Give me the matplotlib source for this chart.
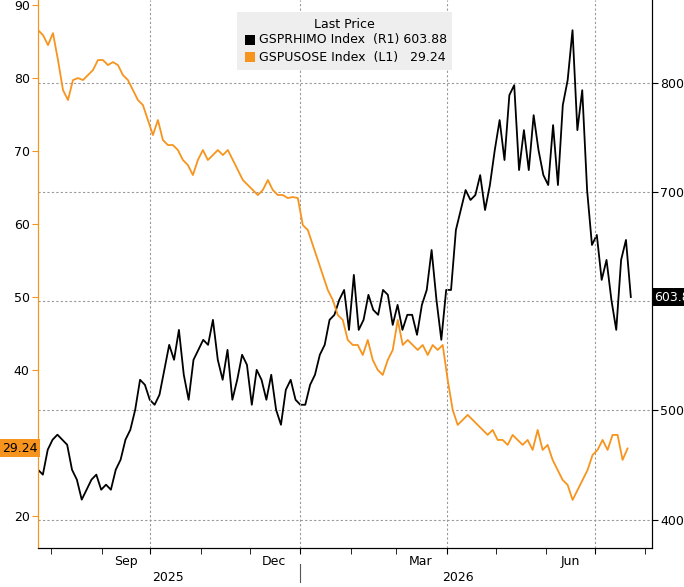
import matplotlib
matplotlib.use("Agg")
import matplotlib.pyplot as plt
import matplotlib.dates as mdates
import numpy as np
import pandas as pd

# Orange series (left axis), pixel-read values
orange_px = [30,35,45,33,60,90,100,80,78,80,75,70,60,60,65,62,65,75,80,90,100,105,120,135,120,140,145,145,150,160,165,175,160,150,160,155,150,155,150,160,170,180,185,190,195,190,180,190,195,195,198,197,198,225,230,245,260,275,290,300,315,320,340,345,345,355,340,360,370,375,360,350,320,345,340,345,350,345,355,345,350,345,380,410,425,420,415,420,425,430,435,430,440,440,445,435,440,445,440,450,430,450,445,460,470,480,485,500,490,480,470,455,450,440,450,435,435,460,450]
black_px = [470,475,450,440,435,440,445,470,480,500,490,480,475,490,485,490,470,460,440,430,410,380,385,400,405,395,370,345,360,330,375,400,360,350,340,345,320,360,380,350,400,380,355,365,405,370,380,400,375,410,425,390,380,400,405,405,385,375,355,345,320,315,300,290,330,275,330,320,295,310,315,290,295,325,305,330,315,315,335,305,290,250,300,340,290,290,230,210,190,200,195,175,210,185,150,120,160,95,85,170,130,170,115,150,175,185,125,185,105,80,30,130,90,190,245,235,280,260,300,330,260,240,295]
usose = [round(20 + (516 - y) / 7.3, 2) for y in orange_px]
rhimo = [round(400 + (520 - y) / 1.093, 1) for y in black_px]
usose[-1] = 29.24
rhimo[-1] = 603.88

d_or = pd.date_range("2025-07-24", "2026-07-21", periods=len(usose))
d_bk = pd.date_range("2025-07-24", "2026-07-23", periods=len(rhimo))

ORANGE = "#f7941d"
fig = plt.figure(figsize=(6.84, 5.87), dpi=100)
ax = fig.add_axes([38/684, 39/587, 614/684, 548/587])
ax2 = ax.twinx()
ax.plot(d_or, usose, color=ORANGE, lw=1.3, zorder=3)
ax2.plot(d_bk, rhimo, color="black", lw=1.3, zorder=3)
ax.set_zorder(ax2.get_zorder() + 1)
ax.patch.set_visible(False)

ax.set_xlim(pd.Timestamp("2025-07-24"), pd.Timestamp("2026-08-05"))
ax.set_ylim(15.6, 90.7)
ax2.set_ylim(374, 876)
ax.set_yticks(range(20, 91, 10))
ax2.set_yticks(range(400, 801, 100))
for a in (ax, ax2):
    a.spines["top"].set_visible(False)
ax.spines["left"].set_color(ORANGE)
ax2.spines["left"].set_color(ORANGE)
ax.tick_params(axis="y", length=4, color=ORANGE, labelsize=9, pad=2)
ax2.tick_params(axis="y", length=4, color="black", labelsize=9, pad=2)

# grid
ax2.grid(axis="y", ls=(0, (2, 2)), color="#999999", lw=0.8)
ax.xaxis.set_major_locator(mdates.MonthLocator(bymonth=[10, 1, 4, 7]))
ax.xaxis.set_minor_locator(mdates.MonthLocator())
ax.xaxis.set_major_formatter(plt.NullFormatter())
ax.grid(axis="x", which="major", ls=(0, (2, 2)), color="#999999", lw=0.8)
ax.tick_params(axis="x", which="both", length=4)
xt = ax.get_xaxis_transform()
for lab, dt in [("Sep", "2025-09-16"), ("Dec", "2025-12-16"), ("Mar", "2026-03-16"), ("Jun", "2026-06-16")]:
    ax.text(pd.Timestamp(dt), -0.012, lab, transform=xt, ha="center", va="top", fontsize=9)
for lab, dt in [("2025", "2025-10-12"), ("2026", "2026-04-08")]:
    ax.text(pd.Timestamp(dt), -0.042, lab, transform=xt, ha="center", va="top", fontsize=9)
ax.plot([pd.Timestamp("2026-01-01")] * 2, [-0.03, -0.062], transform=xt, color="#555555", lw=0.8, clip_on=False)

# last price tags
ax.text(-0.001, usose[-1], f"{usose[-1]:.2f}", transform=ax.get_yaxis_transform(), ha="right", va="center",
        fontsize=9, bbox=dict(boxstyle="square,pad=0.2", fc=ORANGE, ec="none"), zorder=10, clip_on=False)
ax2.text(1.004, rhimo[-1], f"{rhimo[-1]:.2f}", transform=ax2.get_yaxis_transform(), ha="left", va="center",
         fontsize=9, color="white", bbox=dict(boxstyle="square,pad=0.2", fc="black", ec="none"), zorder=10, clip_on=False)

# legend
lx = 237/684
fig.patches.append(plt.Rectangle((lx, 1 - 70/587), 215/684, 58/587, transform=fig.transFigure, fc="#eeeeee", ec="none", zorder=5))
fig.text(344/684, 1 - 25/587, "Last Price", ha="center", va="center", fontsize=9, zorder=6)
fig.patches.append(plt.Rectangle((245/684, 1 - 45/587), 10/684, 10/587, transform=fig.transFigure, fc="black", zorder=6))
fig.patches.append(plt.Rectangle((245/684, 1 - 62/587), 10/684, 10/587, transform=fig.transFigure, fc=ORANGE, zorder=6))
fig.text(259/684, 1 - 40/587, "GSPRHIMO Index  (R1) 603.88", ha="left", va="center", fontsize=9, zorder=6)
fig.text(259/684, 1 - 57/587, "GSPUSOSE Index  (L1)   29.24", ha="left", va="center", fontsize=9, zorder=6)

fig.savefig("out.png", dpi=100)
